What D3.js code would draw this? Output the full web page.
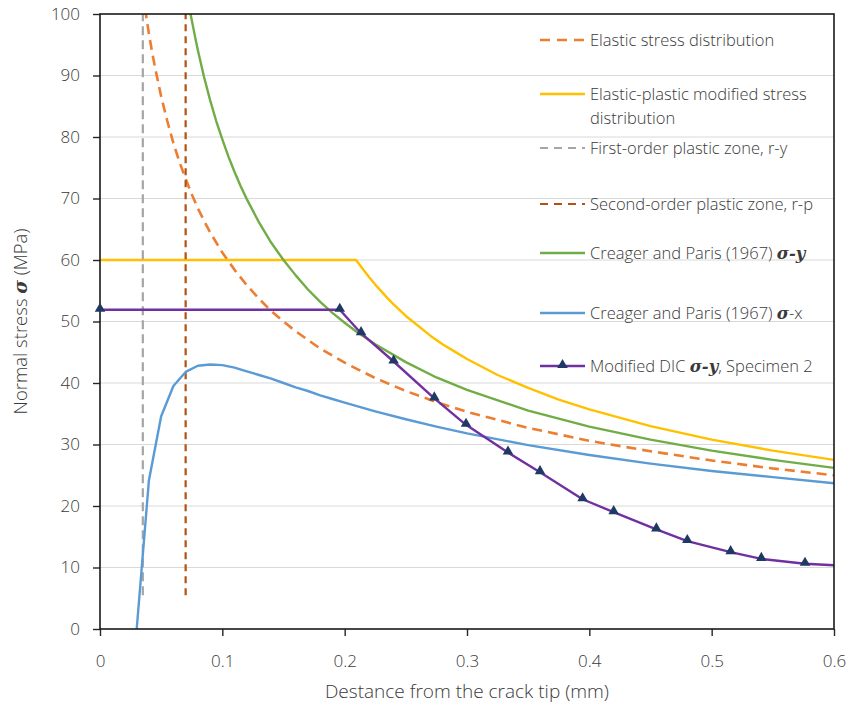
<!DOCTYPE html>
<html>
<head>
<meta charset="utf-8">
<script src="https://cdn.jsdelivr.net/npm/d3@7/dist/d3.min.js"></script>
<style>
  html, body { margin: 0; padding: 0; background: #fff; }
  svg { display: block; }
  text { font-family: "Open Sans", Lato, sans-serif; font-weight: 300; fill: #3a3a3a; }
  .math { font-family: "DejaVu Serif", "Liberation Serif", serif; font-style: italic; font-weight: bold; }
</style>
</head>
<body>
<svg id="chart" width="849" height="710"></svg>
<script>
// Distance from the crack tip (mm) and normal stress (MPa) for each curve
const elasticX = [0.035, 0.0375, 0.04, 0.0425, 0.045, 0.05, 0.055, 0.06, 0.065, 0.07, 0.075, 0.08, 0.085, 0.09, 0.1, 0.11, 0.12, 0.13, 0.14, 0.15, 0.16, 0.18, 0.2, 0.225, 0.25, 0.275, 0.3, 0.35, 0.4, 0.45, 0.5, 0.55, 0.6];
const elasticY = [103.5, 100.0, 96.8, 93.9, 91.3, 86.6, 82.6, 79.0, 75.9, 73.2, 70.7, 68.4, 66.4, 64.5, 61.2, 58.4, 55.9, 53.7, 51.7, 50.0, 48.4, 45.6, 43.3, 40.8, 38.7, 36.9, 35.3, 32.7, 30.6, 28.9, 27.4, 26.1, 25.0];

const plasticModX = [0, 0.2093, 0.215, 0.22, 0.225, 0.23, 0.235, 0.24, 0.25, 0.26, 0.27, 0.28, 0.29, 0.3, 0.325, 0.35, 0.375, 0.4, 0.45, 0.5, 0.55, 0.6];
const plasticModY = [60.0, 60.0, 58.5, 57.2, 56.0, 54.9, 53.8, 52.8, 50.9, 49.3, 47.7, 46.3, 45.1, 43.9, 41.3, 39.2, 37.3, 35.7, 33.0, 30.8, 29.0, 27.5];

const firstOrderX = [0.035, 0.035];
const firstOrderY = [5.5, 100];

const secondOrderX = [0.070, 0.070];
const secondOrderY = [5.5, 100];

const cpSyX = [0.07, 0.072, 0.075, 0.078, 0.08, 0.085, 0.09, 0.095, 0.1, 0.105, 0.11, 0.115, 0.12, 0.13, 0.14, 0.15, 0.16, 0.17, 0.18, 0.19, 0.2, 0.21, 0.225, 0.25, 0.275, 0.3, 0.35, 0.4, 0.45, 0.5, 0.55, 0.6];
const cpSyY = [104.5, 102.2, 99.0, 96.0, 94.1, 89.8, 86.0, 82.6, 79.6, 76.8, 74.3, 72.0, 69.9, 66.1, 62.8, 60.0, 57.5, 55.2, 53.2, 51.4, 49.8, 48.3, 46.3, 43.4, 40.9, 38.9, 35.5, 32.9, 30.8, 29.0, 27.5, 26.2];

const cpSxX = [0.03, 0.04, 0.05, 0.06, 0.07, 0.08, 0.09, 0.1, 0.11, 0.12, 0.13, 0.14, 0.15, 0.16, 0.17, 0.18, 0.19, 0.2, 0.225, 0.25, 0.275, 0.3, 0.35, 0.4, 0.45, 0.5, 0.55, 0.6];
const cpSxY = [0, 24.2, 34.6, 39.5, 41.8, 42.8, 43.0, 42.9, 42.5, 41.9, 41.3, 40.7, 40.0, 39.3, 38.7, 38.0, 37.4, 36.8, 35.4, 34.1, 32.9, 31.8, 29.9, 28.3, 26.9, 25.7, 24.7, 23.7];

const dicX = [0, 0.196, 0.2134, 0.240, 0.2733, 0.2992, 0.3335, 0.3597, 0.3945, 0.4199, 0.4548, 0.4801, 0.5155, 0.5406, 0.5763, 0.61];
const dicY = [51.9, 51.9, 48.1, 43.5, 37.5, 33.2, 28.7, 25.5, 21.1, 19.0, 16.2, 14.3, 12.5, 11.4, 10.6, 10.25];

const xTickValues = [0, 0.1, 0.2, 0.3, 0.4, 0.5, 0.6];
const yTickValues = [0, 10, 20, 30, 40, 50, 60, 70, 80, 90, 100];

const xTitle = "Destance from the crack tip (mm)";

// Series styling and legend text
const series = [
  { xs: elasticX, ys: elasticY, color: "#ED7D31", width: 2.6, dash: "10,6", legendDash: "10,7",
    label: [[{ t: "Elastic stress distribution" }]], ly: 40 },
  { xs: plasticModX, ys: plasticModY, color: "#FFC000", width: 2.4, dash: null,
    label: [[{ t: "Elastic-plastic modified stress" }], [{ t: "distribution" }]], ly: 94 },
  { xs: firstOrderX, ys: firstOrderY, color: "#A5A5A5", width: 2.2, dash: "9,5", legendDash: "8,6",
    label: [[{ t: "First-order plastic zone, r-y" }]], ly: 148 },
  { xs: secondOrderX, ys: secondOrderY, color: "#B25210", width: 2.2, dash: "7,5", legendDash: "8,6",
    label: [[{ t: "Second-order plastic zone, r-p" }]], ly: 204 },
  { xs: cpSyX, ys: cpSyY, color: "#70AD47", width: 2.4, dash: null,
    label: [[{ t: "Creager and Paris (1967) " }, { t: "σ-y", math: true }]], ly: 253 },
  { xs: cpSxX, ys: cpSxY, color: "#5B9BD5", width: 2.4, dash: null,
    label: [[{ t: "Creager and Paris (1967) " }, { t: "σ", math: true }, { t: "-x" }]], ly: 313 },
  { xs: dicX, ys: dicY, color: "#7030A0", width: 2.4, dash: null, marker: "#203864",
    label: [[{ t: "Modified DIC " }, { t: "σ-y", math: true }, { t: ", Specimen 2" }]], ly: 366 }
];

const margin = { left: 100, top: 14, right: 15, bottom: 81 };
const W = 849, H = 710;
const plotW = W - margin.left - margin.right;
const plotH = H - margin.top - margin.bottom;

const svg = d3.select("#chart");
const x = d3.scaleLinear().domain([0, 0.6]).range([margin.left, margin.left + plotW]);
const y = d3.scaleLinear().domain([0, 100]).range([margin.top + plotH, margin.top]);

svg.append("defs").append("clipPath").attr("id", "plotClip")
  .append("rect")
  .attr("x", margin.left).attr("y", margin.top)
  .attr("width", plotW).attr("height", plotH);

// Horizontal gridlines
svg.append("g")
  .selectAll("line")
  .data(yTickValues.filter(v => v > 0 && v < 100))
  .join("line")
  .attr("x1", margin.left).attr("x2", margin.left + plotW)
  .attr("y1", d => y(d)).attr("y2", d => y(d))
  .attr("stroke", "#D9D9D9").attr("stroke-width", 1.2);

// Axes
const yAxis = d3.axisLeft(y).tickValues(yTickValues).tickSize(7).tickPadding(13).tickFormat(d3.format("d"));
const xAxis = d3.axisBottom(x).tickValues(xTickValues).tickSize(7).tickPadding(19).tickFormat(d => d === 0 ? "0" : d3.format(".1f")(d));

const gy = svg.append("g").attr("transform", `translate(${margin.left},0)`).call(yAxis);
const gx = svg.append("g").attr("transform", `translate(0,${margin.top + plotH})`).call(xAxis);
[gx, gy].forEach(g => {
  g.select(".domain").remove();
  g.selectAll(".tick line").attr("stroke", "#262626").attr("stroke-width", 1.4);
  g.selectAll(".tick text").style("font-size", "17px").attr("fill", "#3a3a3a");
});

// Curves
const lines = svg.append("g").attr("clip-path", "url(#plotClip)");
series.forEach(s => {
  const pts = s.xs.map((v, i) => [v, s.ys[i]]);
  const line = d3.line().x(d => x(d[0])).y(d => y(d[1]));
  lines.append("path")
    .attr("d", line(pts))
    .attr("fill", "none")
    .attr("stroke", s.color)
    .attr("stroke-width", s.width)
    .attr("stroke-dasharray", s.dash)
    .attr("stroke-linejoin", "round");
});

// Plot frame
svg.append("rect")
  .attr("x", margin.left).attr("y", margin.top)
  .attr("width", plotW).attr("height", plotH)
  .attr("fill", "none").attr("stroke", "#1a1a1a").attr("stroke-width", 1.6);

// Markers on the DIC series
const tri = d3.symbol().type(d3.symbolTriangle).size(48);
series.filter(s => s.marker).forEach(s => {
  const pts = s.xs.map((v, i) => [v, s.ys[i]]).filter(d => d[0] <= 0.6);
  svg.append("g").selectAll("path")
    .data(pts)
    .join("path")
    .attr("d", tri)
    .attr("transform", d => `translate(${x(d[0])},${y(d[1]) - 1})`)
    .attr("fill", s.marker);
});

// Legend
const legend = svg.append("g");
series.forEach(s => {
  const g = legend.append("g");
  g.append("line")
    .attr("x1", 540).attr("x2", 585)
    .attr("y1", s.ly).attr("y2", s.ly)
    .attr("stroke", s.color)
    .attr("stroke-width", s.width)
    .attr("stroke-dasharray", s.legendDash || null);
  if (s.marker) {
    g.append("path").attr("d", tri).attr("transform", `translate(562.5,${s.ly - 1})`).attr("fill", s.marker);
  }
  s.label.forEach((row, ri) => {
    const t = g.append("text")
      .attr("x", 590).attr("y", s.ly + ri * 24)
      .attr("dy", "0.35em")
      .style("font-size", "16.5px");
    row.forEach(part => {
      t.append("tspan").attr("class", part.math ? "math" : null).text(part.t);
    });
  });
});

// Axis titles
svg.append("text")
  .attr("x", margin.left + plotW / 2).attr("y", 698)
  .attr("text-anchor", "middle")
  .style("font-size", "19px")
  .text(xTitle);

const yt = svg.append("text")
  .attr("transform", `translate(27,${margin.top + plotH / 2}) rotate(-90)`)
  .attr("text-anchor", "middle")
  .style("font-size", "18.5px");
yt.append("tspan").text("Normal stress ");
yt.append("tspan").attr("class", "math").text("σ");
yt.append("tspan").text(" (MPa)");
</script>
</body>
</html>
